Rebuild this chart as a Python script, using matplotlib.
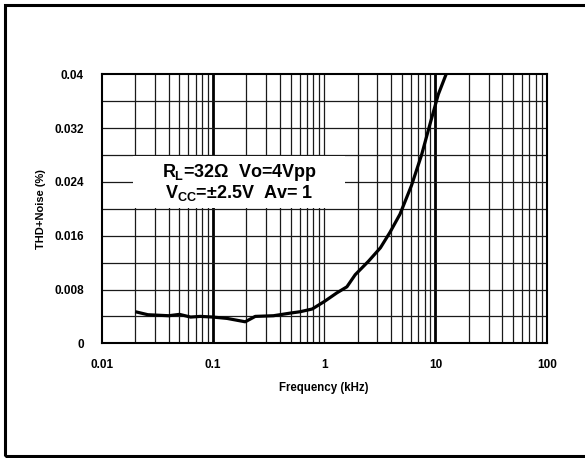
import matplotlib
matplotlib.use("Agg")
import matplotlib.pyplot as plt
from matplotlib.patches import Rectangle
from matplotlib.ticker import FixedLocator, NullFormatter

plt.rcParams['font.family'] = ['Liberation Sans', 'DejaVu Sans']
plt.rcParams['font.weight'] = 'bold'
plt.rcParams['mathtext.fontset'] = 'custom'
plt.rcParams['mathtext.rm'] = 'Liberation Sans:bold'
plt.rcParams['mathtext.it'] = 'Liberation Sans:bold'
plt.rcParams['mathtext.bf'] = 'Liberation Sans:bold'

# data
freq_khz = [0.02, 0.026, 0.04, 0.05, 0.063, 0.077, 0.1, 0.134, 0.195, 0.24, 0.35,
            0.5, 0.61, 0.78, 1.0, 1.3, 1.6, 1.9, 2.5, 3.2, 3.9, 4.8, 6.1, 7.5,
            8.9, 10.6, 12.6]
thd_pct = [0.0047, 0.00425, 0.0041, 0.0043, 0.0039, 0.0040, 0.0039, 0.0037, 0.0032,
           0.0040, 0.0041, 0.0045, 0.0047, 0.0051, 0.0062, 0.0075, 0.0084, 0.0102,
           0.0122, 0.0142, 0.0165, 0.0192, 0.0235, 0.028, 0.0325, 0.037, 0.0402]

xticks = [0.01, 0.1, 1, 10, 100]
xtick_labels = ['0.01', '0.1', '1', '10', '100']
yticks = [0, 0.008, 0.016, 0.024, 0.032, 0.04]
ytick_labels = ['0', '0.008', '0.016', '0.024', '0.032', '0.04']
y_grid = [0.004, 0.008, 0.012, 0.016, 0.02, 0.024, 0.028, 0.032, 0.036]
x_grid_thin = [m * d for d in [0.01, 0.1, 1, 10] for m in range(2, 10)] + [1]
x_grid_thick = [0.1, 10]

annotation = '$R_L$=32Ω  Vo=4Vpp\n$V_{CC}$=±2.5V  Av= 1'

W, H = 585, 458
fig = plt.figure(figsize=(W / 100, H / 100), dpi=100)
ax = fig.add_axes([101.7 / W, 1 - 343.3 / H, 445 / W, 269 / H])

ax.set_xscale('log')
ax.set_xlim(0.01, 100)
ax.set_ylim(0, 0.04)

for xv in x_grid_thin:
    ax.axvline(xv, color='#1a1a1a', lw=0.9, zorder=1)
for xv in x_grid_thick:
    ax.axvline(xv, color='black', lw=2.0, zorder=1)
for yv in y_grid:
    ax.axhline(yv, color='#1a1a1a', lw=0.9, zorder=1)

# white annotation box covering the grid
ax.add_patch(Rectangle((0.070, 0.503), 0.477, 0.192, transform=ax.transAxes,
                       facecolor='white', edgecolor='none', zorder=2))
ax.text(0.3085, 0.599, annotation, transform=ax.transAxes, ha='center', va='center',
        fontsize=13, fontweight='bold', linespacing=1.0, zorder=3)

ax.plot(freq_khz, thd_pct, color='black', lw=2.3, zorder=4, solid_capstyle='butt')

ax.xaxis.set_major_locator(FixedLocator(xticks))
ax.set_xticklabels(xtick_labels)
ax.xaxis.set_minor_formatter(NullFormatter())
ax.xaxis.set_minor_locator(FixedLocator([]))
ax.set_yticks(yticks)
ax.set_yticklabels(ytick_labels)
ax.tick_params(axis='both', length=0, labelsize=8.5)
ax.tick_params(axis='x', pad=11)
ax.tick_params(axis='y', pad=13)
for lab in ax.get_xticklabels() + ax.get_yticklabels():
    lab.set_fontweight('bold')

for s in ax.spines.values():
    s.set_linewidth(1.5)
    s.set_color('black')

ax.set_xlabel('Frequency (kHz)', fontsize=8.3, fontweight='bold', labelpad=8)
ax.set_ylabel('THD+Noise (%)', fontsize=8, fontweight='bold', labelpad=6)

# outer border (right side lies outside the image)
fig.patches.append(Rectangle((5 / W, 2 / H), 2.0, (451) / H, transform=fig.transFigure,
                             facecolor='none', edgecolor='black', lw=2.2, figure=fig))

fig.savefig('out.png', dpi=100, facecolor='white')
